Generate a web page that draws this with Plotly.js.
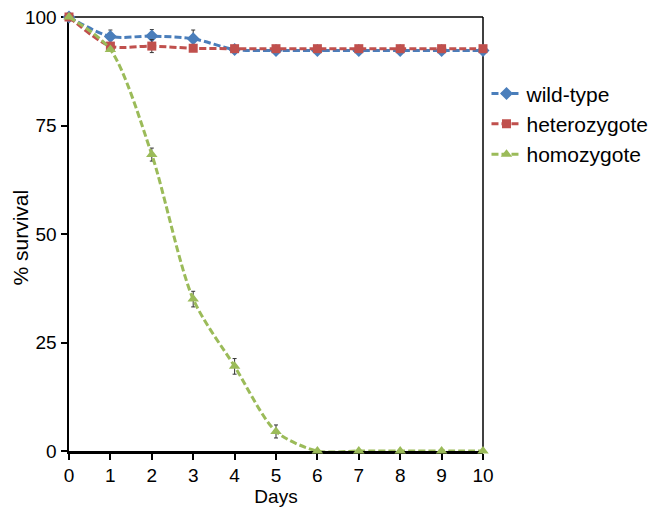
<!DOCTYPE html>
<html><head><meta charset="utf-8">
<script src="https://cdn.plot.ly/plotly-3.0.1.min.js"></script>
<style>body{margin:0;background:#fff}#c{width:664px;height:509px}</style>
</head><body><div id="c"></div>
<script>
const days = [0,1,2,3,4,5,6,7,8,9,10];
const wildType = [100,95.5,95.6,95.0,92.5,92.3,92.3,92.3,92.3,92.3,92.3];
const wildTypeErr = [0,1.5,1.5,2,0,0,0,0,0,0,0];
const hetero = [100,93.3,93.3,92.8,92.7,92.7,92.7,92.7,92.7,92.7,92.7];
const heteroErr = [0,0,1.5,0,0,0,0,0,0,0,0];
const homo = [100,92.5,68.3,35.0,19.5,4.5,0,0,0,0,0];
const homoErr = [0,0,1.5,1.8,1.8,1.5,0,0,0,0,0];
const names = ['wild-type','heterozygote','homozygote'];
const colors = ['#4a7ebb','#c0504d','#9bbb59'];
const symbols = ['diamond','square','triangle-up'];
const series = [wildType, hetero, homo];
const errs = [wildTypeErr, heteroErr, homoErr];

const traces = series.map((s,i)=>({
  x: days, y: s, name: names[i], type:'scatter', mode:'lines+markers',
  legendgroup: 'g'+i,
  line:{color:colors[i], width:3, dash:'7px,3px', shape:'spline', smoothing:0.8},
  marker:{color:colors[i], symbol:symbols[i], size: i===1?9:10},
  error_y:{type:'data', array:errs[i], visible:true, color:'#333', thickness:1, width:2},
  cliponaxis:false
}));

const layout = {
  width:664, height:509,
  margin:{l:69, r:180, t:17, b:58},
  paper_bgcolor:'#fff', plot_bgcolor:'#fff',
  font:{family:'Liberation Sans, Arial, sans-serif', color:'#000'},
  showlegend:true,
  legend:{x:1.006, xanchor:'left', y:0.87, yanchor:'top', font:{size:21}, tracegroupgap:0, bgcolor:'rgba(0,0,0,0)'},
  xaxis:{range:[0,10], tickvals:days, ticktext:days.map(String), showgrid:false, zeroline:false,
    showline:true, linecolor:'#000', linewidth:2.5, ticks:'outside', ticklen:6, tickwidth:2, tickcolor:'#000',
    tickfont:{size:19}, layer:'below traces',
    title:{text:'Days', font:{size:19}, standoff:3}},
  yaxis:{range:[0,100], tickvals:[0,25,50,75,100], showgrid:false, zeroline:false,
    showline:true, linecolor:'#000', linewidth:2.5, ticks:'outside', ticklen:6, tickwidth:2, tickcolor:'#000',
    tickfont:{size:19}, layer:'below traces'},
  annotations:[
    {text:'% survival', xref:'paper', yref:'paper', x:0, y:0.492, xshift:-49, xanchor:'center', yanchor:'middle',
     textangle:-90, showarrow:false, font:{size:21, color:'#000'}}
  ],
  shapes:[
    {type:'line', xref:'paper', yref:'paper', x0:0, x1:1, y0:1, y1:1, line:{color:'#000', width:1.5}, layer:'below'},
    {type:'line', xref:'paper', yref:'paper', x0:1, x1:1, y0:0, y1:1, line:{color:'#000', width:1.5}, layer:'below'}
  ]
};
Plotly.newPlot('c', traces, layout, {displayModeBar:false, staticPlot:true});
</script></body></html>
